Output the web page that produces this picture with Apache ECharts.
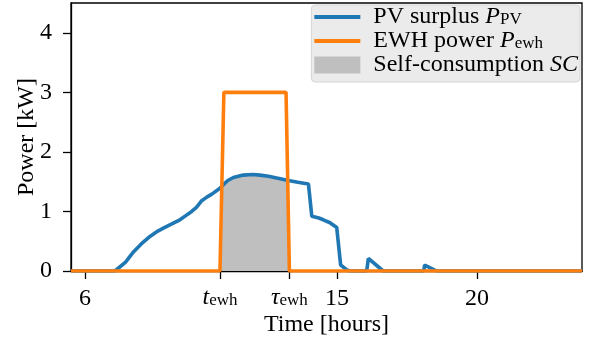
<!DOCTYPE html>
<html>
<head>
<meta charset="utf-8">
<script src="https://cdn.jsdelivr.net/npm/echarts@6/dist/echarts.min.js"></script>
<style>html,body{margin:0;padding:0;background:#fff}#c{width:595px;height:342px}</style>
</head>
<body>
<div id="c"></div>
<script>
// ---- data ----
const pvTime  = [5.5, 7.07, 7.45, 7.73, 8.0, 8.32, 8.6, 8.8, 9.1, 9.39, 9.6, 9.81, 9.98, 10.05, 10.17, 10.35, 10.53, 10.82, 10.94, 11.1, 11.3, 11.65, 12.0, 12.25, 12.55, 12.85, 13.26, 13.6, 13.98, 14.1, 14.35, 14.51, 14.75, 14.99, 15.13, 15.35, 15.45, 16.06, 16.12, 16.65, 18.1, 18.13, 18.56, 23.75];
const pvPower = [0, 0, 0.15, 0.32, 0.45, 0.58, 0.67, 0.72, 0.79, 0.86, 0.93, 1.0, 1.07, 1.11, 1.18, 1.24, 1.29, 1.39, 1.45, 1.52, 1.57, 1.61, 1.62, 1.61, 1.59, 1.56, 1.52, 1.49, 1.46, 0.92, 0.89, 0.86, 0.81, 0.73, 0.10, 0.02, 0, 0, 0.21, 0, 0, 0.10, 0, 0];
const ewhTime  = [5.5, 10.82, 10.96, 13.18, 13.3, 23.75];
const ewhPower = [0, 0, 3, 3, 0, 0];
const scTime  = [10.82, 10.89, 10.94, 11.1, 11.3, 11.65, 12.0, 12.25, 12.55, 12.85, 13.2, 13.24, 13.3];
const scPower = [0, 1.43, 1.45, 1.52, 1.57, 1.61, 1.62, 1.61, 1.59, 1.56, 1.52, 1.52, 0];
const tEwh = 10.82, tauEwh = 13.3;
const xTicks = [6, tEwh, tauEwh, 15, 20];
const yTicks = [0, 1, 2, 3, 4];
const legendNames = {
  pv: 'PV surplus {i|P}{s|PV}',
  ewh: 'EWH power {i|P}{s|ewh}',
  sc: 'Self-consumption {i|SC}'
};

const pairs = (xs, ys) => xs.map((x, i) => [x, ys[i]]);
const FONT = 'Liberation Serif';
const FS = 24;
const rich = {
  i: {fontFamily: FONT, fontStyle: 'italic', fontSize: FS, lineHeight: 22, verticalAlign: 'middle', color: '#000'},
  s: {fontFamily: FONT, fontSize: 17, lineHeight: 5, verticalAlign: 'bottom', color: '#000'}
};
const lineIcon = 'path://M0,0H46V4H0Z';

const chart = echarts.init(document.getElementById('c'), null, {renderer: 'canvas'});
chart.setOption({
  animation: false,
  textStyle: {fontFamily: FONT},
  grid: {left: 71, right: 13, top: 3, bottom: 71, outerBoundsMode: 'none', containLabel: false,
         show: true, borderColor: '#000', borderWidth: 1.3, backgroundColor: 'transparent'},
  legend: {
    orient: 'vertical', right: 15, top: 5,
    padding: [0, 2, 5, 3],
    itemWidth: 46, itemHeight: 17, itemGap: 0,
    backgroundColor: '#ebebeb', borderColor: '#d4d4d4', borderWidth: 1, borderRadius: 4,
    selectedMode: false,
    data: [{name: 'pv', icon: lineIcon}, {name: 'ewh', icon: lineIcon}, {name: 'sc', icon: 'rect'}],
    formatter: n => legendNames[n],
    textStyle: {fontFamily: FONT, fontSize: FS, lineHeight: 22, color: '#000', padding: [0, 0, 0, 8], rich: rich}
  },
  xAxis: {
    type: 'value', min: 5.5, max: 23.75,
    name: 'Time [hours]', nameLocation: 'middle', nameGap: 42, nameMoveOverlap: false,
    nameTextStyle: {fontFamily: FONT, fontSize: FS, color: '#000'},
    axisLine: {show: true, onZero: false, lineStyle: {color: '#000', width: 1.3}},
    axisTick: {show: true, length: 8, lineStyle: {color: '#000', width: 1.3}, customValues: xTicks},
    axisLabel: {
      customValues: xTicks, margin: 16, color: '#000', fontFamily: FONT, fontSize: FS,
      formatter: v => {
        if (Math.abs(v - tEwh) < 1e-6) return '{i|t}{s|ewh}';
        if (Math.abs(v - tauEwh) < 1e-6) return '{i|τ}{s|ewh}';
        return String(v);
      },
      rich: rich
    },
    splitLine: {show: false}
  },
  yAxis: {
    type: 'value', min: 0, max: 4.5,
    name: 'Power [kW]', nameLocation: 'middle', nameGap: 32, nameMoveOverlap: false,
    nameTextStyle: {fontFamily: FONT, fontSize: FS, color: '#000'},
    axisLine: {show: true, lineStyle: {color: '#000', width: 1.3}},
    axisTick: {show: true, length: 8, lineStyle: {color: '#000', width: 1.3}, customValues: yTicks},
    axisLabel: {customValues: yTicks, margin: 19, color: '#000', fontFamily: FONT, fontSize: FS},
    splitLine: {show: false}
  },
  series: [
    {name: 'pv', type: 'line', data: pairs(pvTime, pvPower), showSymbol: false, symbol: 'none',
     lineStyle: {color: '#1f77b4', width: 3.6}, itemStyle: {color: '#1f77b4'}, z: 3},
    {name: 'ewh', type: 'line', data: pairs(ewhTime, ewhPower), showSymbol: false, symbol: 'none',
     lineStyle: {color: '#ff7f0e', width: 3.6}, itemStyle: {color: '#ff7f0e'}, z: 4},
    {name: 'sc', type: 'line', data: pairs(scTime, scPower), showSymbol: false, symbol: 'none',
     lineStyle: {width: 0, color: '#bfbfbf'}, itemStyle: {color: '#bfbfbf'},
     areaStyle: {color: '#bfbfbf', opacity: 1}, z: 2}
  ]
});
</script>
</body>
</html>
